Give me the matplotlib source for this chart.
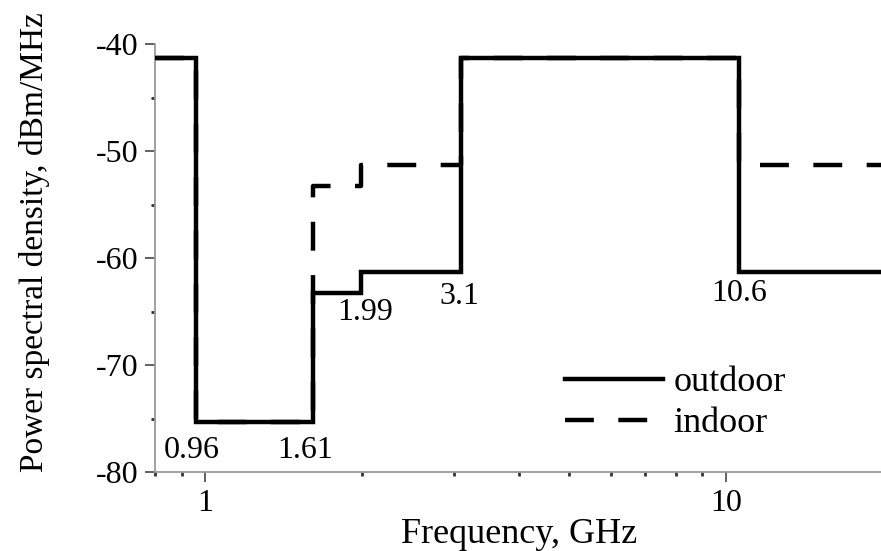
import matplotlib
matplotlib.use("Agg")
import matplotlib.pyplot as plt
from matplotlib.ticker import LogLocator, FixedLocator, MultipleLocator, NullFormatter

plt.rcParams['font.family'] = ['Liberation Serif', 'DejaVu Serif']
plt.rcParams['axes.unicode_minus'] = False

# Data
freq_edges = [0.8, 0.96, 1.61, 1.99, 3.1, 10.6, 20.0]
outdoor_db = [-41.3, -75.3, -63.3, -61.3, -41.3, -61.3, -61.3]
indoor_db = [-41.3, -75.3, -53.3, -51.3, -41.3, -51.3, -51.3]
break_labels = ["0.96", "1.61", "1.99", "3.1", "10.6"]
break_freqs = [0.96, 1.61, 1.99, 3.1, 10.6]
break_label_y = [-78.0, -78.0, -65.1, -63.6, -63.3]
break_label_dx = [-3, -6, 3, -1, 0]   # point offsets
yticks = [-80, -70, -60, -50, -40]
xticks = [1, 10]

fig = plt.figure(figsize=(8.81, 5.51), dpi=100)
fig.subplots_adjust(left=155/881, right=882.7/881, bottom=79/551, top=1-44/551)
ax = fig.add_subplot(111)

lw = 3.2
ax.step(freq_edges, indoor_db, where='post', color='black', lw=lw,
        dashes=(6.5, 5.5), label='indoor', zorder=2, solid_joinstyle='miter')
ax.step(freq_edges, outdoor_db, where='post', color='black', lw=lw,
        label='outdoor', zorder=3, solid_joinstyle='miter')

ax.set_xscale('log')
ax.set_xlim(0.8, 20)
ax.set_ylim(-80, -40)

ax.xaxis.set_major_locator(FixedLocator(xticks))
ax.set_xticklabels([str(t) for t in xticks])
ax.xaxis.set_minor_locator(LogLocator(base=10, subs=range(2, 10)))
ax.xaxis.set_minor_formatter(NullFormatter())
ax.yaxis.set_major_locator(FixedLocator(yticks))
ax.yaxis.set_minor_locator(MultipleLocator(5))

for s in ['top', 'right']:
    ax.spines[s].set_visible(False)
for s in ['left', 'bottom']:
    ax.spines[s].set_color('#9a9a9a')
    ax.spines[s].set_linewidth(1.3)

ax.tick_params(axis='both', which='major', direction='out', length=7, width=1.3,
               color='#555555', labelsize=23, pad=5)
ax.tick_params(axis='both', which='minor', direction='out', length=3, width=2,
               color='#333333')

for lab, f, y, dx in zip(break_labels, break_freqs, break_label_y, break_label_dx):
    ax.annotate(lab, xy=(f, y), xytext=(dx, 0), textcoords='offset points',
                ha='center', va='center', fontsize=23)

ax.set_xlabel('Frequency, GHz', fontsize=26)
ax.xaxis.set_label_coords((519 - 155) / 727.7, (472 - 518) / 428)
ax.set_ylabel('Power spectral density, dBm/MHz', fontsize=24)
ax.yaxis.set_label_coords((50 - 155) / 727.7, (472 - 242) / 428)

handles, labels = ax.get_legend_handles_labels()
order = [1, 0]
leg = ax.legend([handles[i] for i in order], [labels[i] for i in order],
                frameon=False, fontsize=26, handlelength=2.7, handletextpad=0.3,
                labelspacing=0.22, borderpad=0, borderaxespad=0,
                loc='upper left', bbox_to_anchor=(565/881, 1-366/551),
                bbox_transform=fig.transFigure)

fig.savefig('out.png', dpi=100)
